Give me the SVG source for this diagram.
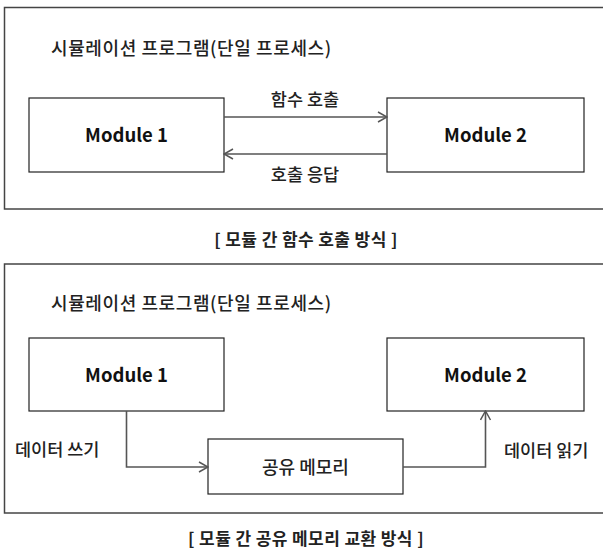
<svg xmlns="http://www.w3.org/2000/svg" width="603" height="550" viewBox="0 0 603 550">
  <defs>
    <style>
      .frame { fill: none; stroke: #444; stroke-width: 1.5; }
      .box { fill: #fff; stroke: #222; stroke-width: 1.2; }
      .link { fill: none; stroke: #555; stroke-width: 1.6; }
      .ko { font-family: "Noto Sans CJK KR", "Noto Sans", sans-serif; fill: #222; font-weight: 500; }
      .title { font-size: 18px; letter-spacing: 0.6px; }
      .lbl { font-size: 17.5px; }
      .cap { font-size: 17px; font-weight: bold; letter-spacing: 0.4px; }
      .mod { font-family: "Noto Sans CJK KR", "Noto Sans", sans-serif; font-size: 18.5px; font-weight: bold; fill: #111; }
    </style>
    <marker id="arrow" viewBox="0 0 12 12" refX="11" refY="6" markerWidth="12" markerHeight="12" markerUnits="userSpaceOnUse" orient="auto">
      <path d="M2,1 L11,6 L2,11" fill="none" stroke="#555" stroke-width="1.5"/>
    </marker>
  </defs>

  <rect width="603" height="550" fill="#fff"/>

  <!-- Upper panel: direct function calls -->
  <g id="panel-call">
    <rect class="frame" x="4.5" y="7.5" width="620" height="201.5"/>
    <text class="ko title" x="51" y="55">시뮬레이션 프로그램(단일 프로세스)</text>
  </g>
  <g id="call-module1">
    <rect class="box" x="29" y="98" width="195" height="74"/>
    <text class="mod" x="126.5" y="142" text-anchor="middle">Module 1</text>
  </g>
  <g id="call-module2">
    <rect class="box" x="387" y="98" width="197" height="74"/>
    <text class="mod" x="485.5" y="142" text-anchor="middle">Module 2</text>
  </g>
  <g id="call-connectors">
    <line class="link" x1="224" y1="117" x2="387" y2="117" marker-end="url(#arrow)"/>
    <line class="link" x1="387" y1="154" x2="224" y2="154" marker-end="url(#arrow)"/>
    <text class="ko lbl" x="305" y="106" text-anchor="middle">함수 호출</text>
    <text class="ko lbl" x="305" y="181" text-anchor="middle">호출 응답</text>
  </g>
  <text class="ko cap" x="306" y="246" text-anchor="middle">[ 모듈 간 함수 호출 방식 ]</text>

  <!-- Lower panel: shared memory exchange -->
  <g id="panel-shm">
    <rect class="frame" x="4.5" y="264" width="620" height="249"/>
    <text class="ko title" x="51" y="310">시뮬레이션 프로그램(단일 프로세스)</text>
  </g>
  <g id="shm-module1">
    <rect class="box" x="29" y="338" width="195" height="73"/>
    <text class="mod" x="126.5" y="382" text-anchor="middle">Module 1</text>
  </g>
  <g id="shm-module2">
    <rect class="box" x="387" y="338" width="197" height="73"/>
    <text class="mod" x="485.5" y="382" text-anchor="middle">Module 2</text>
  </g>
  <g id="shared-memory">
    <rect class="box" x="208" y="439" width="195" height="55"/>
    <text class="ko" x="305.5" y="474" text-anchor="middle" font-size="18">공유 메모리</text>
  </g>
  <g id="shm-connectors">
    <polyline class="link" points="126.5,411 126.5,467 208,467" marker-end="url(#arrow)"/>
    <polyline class="link" points="403,467 485.5,467 485.5,411" marker-end="url(#arrow)"/>
    <text class="ko lbl" x="15" y="456">데이터 쓰기</text>
    <text class="ko lbl" x="504" y="457">데이터 읽기</text>
  </g>
  <text class="ko cap" x="306" y="545" text-anchor="middle" letter-spacing="1">[ 모듈 간 공유 메모리 교환 방식 ]</text>
</svg>
